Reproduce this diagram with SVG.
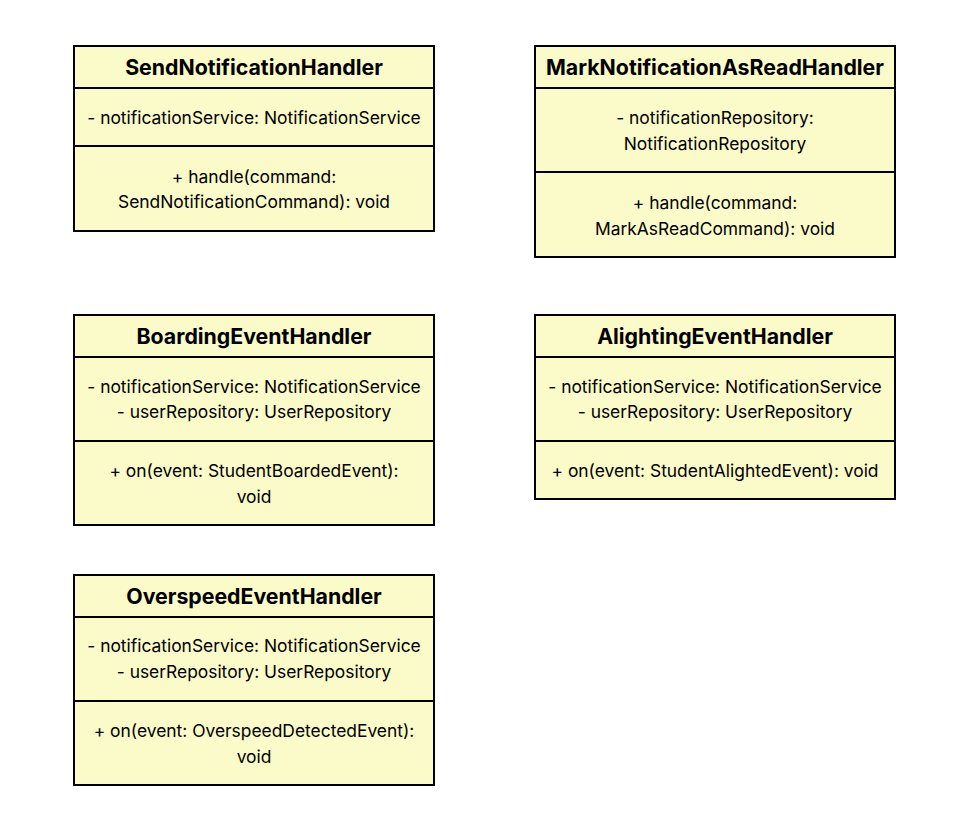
<svg xmlns="http://www.w3.org/2000/svg" width="957" height="828" viewBox="0 0 957 828">
<style>
.box{fill:#fbfac9;stroke:#000;stroke-width:2}
.sep{stroke:#000;stroke-width:2}
.t{font-family:Inter,"Noto Sans",sans-serif;font-size:21.3px;font-weight:bold;text-anchor:middle;dominant-baseline:central;fill:#000}
.m{font-family:Inter,"Noto Sans",sans-serif;font-size:17.4px;text-anchor:middle;dominant-baseline:central;fill:#000}
</style>
<rect width="957" height="828" fill="#fff"/>
<g id="SendNotificationHandler">
<rect class="box" x="74" y="46" width="360" height="185"/>
<line class="sep" x1="74" y1="88" x2="434" y2="88"/>
<line class="sep" x1="74" y1="146" x2="434" y2="146"/>
<text class="t" x="254" y="67">SendNotificationHandler</text>
<text class="m" x="254" y="117">- notificationService: NotificationService</text>
<text class="m" x="254" y="176">+ handle(command:</text>
<text class="m" x="254" y="201">SendNotificationCommand): void</text>
</g>
<g id="MarkNotificationAsReadHandler">
<rect class="box" x="535" y="46" width="360" height="211"/>
<line class="sep" x1="535" y1="88" x2="895" y2="88"/>
<line class="sep" x1="535" y1="172" x2="895" y2="172"/>
<text class="t" x="715" y="67">MarkNotificationAsReadHandler</text>
<text class="m" x="715" y="117">- notificationRepository:</text>
<text class="m" x="715" y="143">NotificationRepository</text>
<text class="m" x="715" y="202">+ handle(command:</text>
<text class="m" x="715" y="228">MarkAsReadCommand): void</text>
</g>
<g id="BoardingEventHandler">
<rect class="box" x="74" y="315" width="360" height="210"/>
<line class="sep" x1="74" y1="357" x2="434" y2="357"/>
<line class="sep" x1="74" y1="441" x2="434" y2="441"/>
<text class="t" x="254" y="336">BoardingEventHandler</text>
<text class="m" x="254" y="386">- notificationService: NotificationService</text>
<text class="m" x="254" y="411">- userRepository: UserRepository</text>
<text class="m" x="254" y="470">+ on(event: StudentBoardedEvent):</text>
<text class="m" x="254" y="496">void</text>
</g>
<g id="AlightingEventHandler">
<rect class="box" x="535" y="315" width="360" height="184"/>
<line class="sep" x1="535" y1="357" x2="895" y2="357"/>
<line class="sep" x1="535" y1="441" x2="895" y2="441"/>
<text class="t" x="715" y="336">AlightingEventHandler</text>
<text class="m" x="715" y="386">- notificationService: NotificationService</text>
<text class="m" x="715" y="411">- userRepository: UserRepository</text>
<text class="m" x="715" y="470">+ on(event: StudentAlightedEvent): void</text>
</g>
<g id="OverspeedEventHandler">
<rect class="box" x="74" y="575" width="360" height="210"/>
<line class="sep" x1="74" y1="617" x2="434" y2="617"/>
<line class="sep" x1="74" y1="701" x2="434" y2="701"/>
<text class="t" x="254" y="596">OverspeedEventHandler</text>
<text class="m" x="254" y="645">- notificationService: NotificationService</text>
<text class="m" x="254" y="671">- userRepository: UserRepository</text>
<text class="m" x="254" y="730">+ on(event: OverspeedDetectedEvent):</text>
<text class="m" x="254" y="756">void</text>
</g>
<g id="connectors"/>
</svg>
